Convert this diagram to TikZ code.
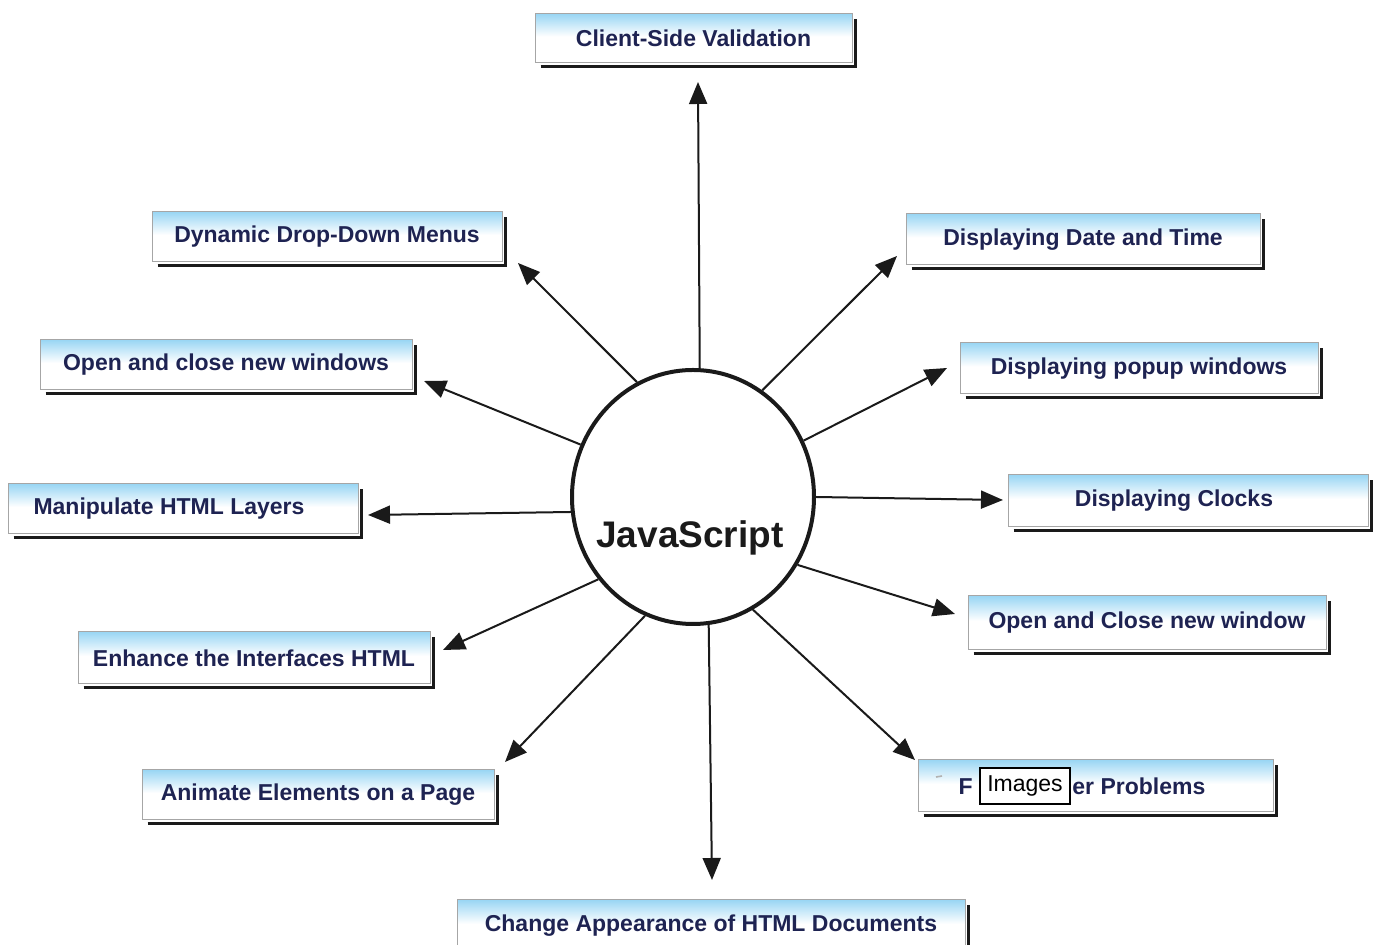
\documentclass[tikz,border=0pt]{standalone}
\usepackage{fontspec}
\setmainfont{Liberation Sans}
\usetikzlibrary{arrows.meta,shapes.geometric,calc}
\definecolor{navy}{HTML}{1E2352}
\definecolor{skyband}{HTML}{9AD6F4}
\definecolor{ink}{HTML}{1A1A1A}
% light blue band at the top of each box, white below
\pgfdeclareverticalshading{boxband}{100bp}{color(0bp)=(white); color(25bp)=(white);
  color(52bp)=(white); color(75bp)=(skyband); color(100bp)=(skyband)}
\tikzset{
  featbox/.style={draw=gray!70, line width=0.5pt, shading=boxband, inner sep=0pt, text=navy,
    font=\bfseries\fontsize{11.5}{13}\selectfont},
  boxtext/.style={inner sep=0pt, text=navy, font=\bfseries\fontsize{11.5}{13}\selectfont},
  shadowline/.style={draw=ink, line width=1.6pt},
  hub/.style={ellipse, draw=ink, line width=2pt, fill=white,
    minimum width=121pt, minimum height=127pt, inner sep=0pt},
  hublabel/.style={text=ink, font=\bfseries\fontsize{18.5}{20}\selectfont},
  imgbox/.style={draw=black, line width=0.6pt, fill=white, inner sep=1pt,
    minimum width=45pt, minimum height=18pt, font=\fontsize{11.5}{13}\selectfont},
  arr/.style={draw=ink, line width=1pt, -{Triangle[length=11pt,width=9pt]}}
}
% feature box: name, left, top, right, bottom, text
\newcommand\featnode[6]{%
  \node[featbox, minimum width={(#4-#2)*0.5pt}, minimum height={(#5-#3)*0.5pt}]
    (#1) at ({(#2+#4)/2},{(#3+#5)/2}) {#6};
  \draw[shadowline] ([shift={(3pt,-1.4pt)}]#1.south west)
    -- ([shift={(1.4pt,-1.4pt)}]#1.south east)
    -- ([shift={(1.4pt,-3pt)}]#1.north east);
}
\begin{document}
\begin{tikzpicture}[x=0.5pt,y=-0.5pt]
\useasboundingbox[fill=white] (0,0) rectangle (1378,945);

% outer feature boxes
\featnode{b1}{535}{14}{852}{63}{Client-Side Validation}
\featnode{b2}{152}{212}{502}{262}{Dynamic Drop-Down Menus}
\featnode{b3}{906}{214}{1260}{265}{Displaying Date and Time}
\featnode{b4}{40}{340}{412}{390}{Open and close new windows}
\featnode{b5}{960}{343}{1318}{394}{Displaying popup windows}
\featnode{b6}{8}{484}{358}{534}{Manipulate HTML Layers\kern14pt}
\featnode{b7}{1008}{475}{1368}{527}{Displaying Clocks\kern14pt}
\featnode{b8}{968}{596}{1326}{650}{Open and Close new window}
\featnode{b9}{78}{632}{430}{684}{Enhance the Interfaces HTML}
\featnode{b10}{142}{770}{494}{820}{Animate Elements on a Page}
\featnode{b11}{918}{760}{1273}{812}{}
\featnode{b12}{457}{900}{965}{952}{Change Appearance of HTML Documents}

% box with the image placeholder over its label
\draw[gray!60, line width=0.8pt] (936,777) -- (942,776);
\node[boxtext, anchor=base east] (b11a) at (973,795) {F};
\node[boxtext, anchor=base west] (b11b) at (1072,795) {er Problems};
\node[imgbox] (img) at (1025,786) {Images};

% central hub
\node[hub] (js) at (693,497) {};
\node[hublabel] (jslabel) at (690,538) {JavaScript};

% arrow tips
\coordinate (t1) at (698,82);
\coordinate (t2) at (518,263);
\coordinate (t3) at (897,256);
\coordinate (t4) at (424,381);
\coordinate (t5) at (947,368);
\coordinate (t6) at (368,515);
\coordinate (t7) at (1003,500);
\coordinate (t8) at (955,614);
\coordinate (t9) at (443,650);
\coordinate (t10) at (505,762);
\coordinate (t11) at (915,760);
\coordinate (t12) at (712,880);

\draw[arr] (js.87) -- (t1);
\draw[arr] (js.116) -- (t2);
\draw[arr] (js.57) -- (t3);
\draw[arr] (js.155) -- (t4);
\draw[arr] (js.27) -- (t5);
\draw[arr] (js.187) -- (t6);
\draw[arr] (js.0) -- (t7);
\draw[arr] (js.-33) -- (t8);
\draw[arr] (js.221) -- (t9);
\draw[arr] (js.248) -- (t10);
\draw[arr] (js.298) -- (t11);
\draw[arr] (js.277) -- (t12);
\end{tikzpicture}
\end{document}
